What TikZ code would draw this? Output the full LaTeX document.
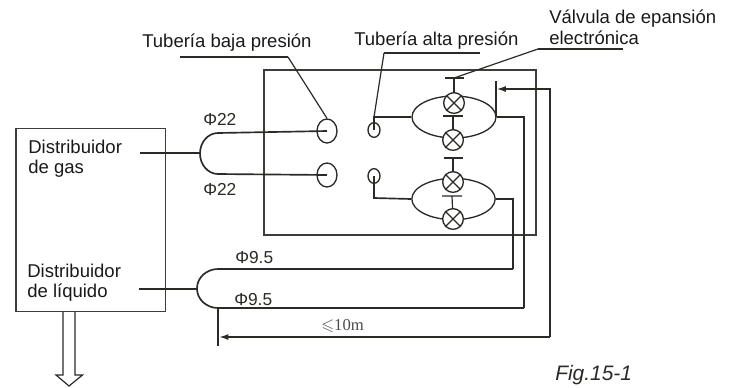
\documentclass[tikz,border=0pt]{standalone}
\usepackage{amssymb}
\usepackage{fontspec}
\setmainfont{Liberation Sans}
\newfontfamily\dimserif{Liberation Serif}
\usetikzlibrary{shapes.geometric,arrows.meta}
\definecolor{ink}{HTML}{2B2A26}
\definecolor{frame}{HTML}{3C3C38}
\tikzset{
  pipe/.style={draw=ink,line width=1.25pt},
  thin pipe/.style={draw=ink,line width=0.9pt},
  boxline/.style={draw=frame,line width=1.05pt},
  label/.style={inner sep=0pt,anchor=west,text=black!90,align=left,font=\fontsize{13.9}{15}\selectfont},
  dimlabel/.style={inner sep=0pt,anchor=west,text=ink,font=\fontsize{13}{15}\selectfont},
  valve/.style={circle,draw=ink,line width=1pt,fill=white,minimum size=15.5pt,inner sep=0pt},
  port/.style={ellipse,draw=ink,line width=1pt,inner sep=0pt,minimum width=#1},
  tip/.style={-{Latex[length=7pt,width=4.5pt]}}
}
\newcommand{\valvecross}[1]{\draw[thin pipe] (#1.north west) -- (#1.south east) (#1.north east) -- (#1.south west);}
\begin{document}
\begin{tikzpicture}[x=0.75pt,y=-0.75pt]
\useasboundingbox (0,0) rectangle (729,387);
% boxes
\node[boxline,rectangle,minimum width=112pt,minimum height=137.5pt,inner sep=0pt] (dist) at (90.75,220) {};
\node[boxline,rectangle,minimum width=204pt,minimum height=123.75pt,inner sep=0pt] (unit) at (400,152.5) {};
% coordinates
\coordinate (gs) at (140,153);
\coordinate (gl) at (200,153);
\coordinate (gt) at (218,133);
\coordinate (gb) at (218,174);
\coordinate (ls) at (139,289);
\coordinate (ll) at (197,289);
\coordinate (lt) at (218,269);
\coordinate (lb) at (218,308);
\coordinate (lbx) at (218,346);
\coordinate (larr) at (219,337);
\coordinate (ltr) at (513,269);
\coordinate (lbr) at (524,308);
\coordinate (c1) at (513,199);
\coordinate (c2) at (524,117);
\coordinate (far) at (550,337);
\coordinate (fart) at (550,89);
\coordinate (barT) at (496,81);
\coordinate (barB) at (496,117);
\coordinate (barM) at (496.5,89);
% ports
\node[port=15pt,minimum height=18pt] (b1) at (327,131) {};
\node[port=15pt,minimum height=18pt] (b2) at (327,175) {};
\node[port=9pt,minimum height=11pt] (a1) at (374,130) {};
\node[port=9pt,minimum height=11pt] (a2) at (374,176) {};
\coordinate (a1j) at (374,117);
\coordinate (a2j) at (374,198);
% expansion loops
\node[draw=ink,line width=1pt,ellipse,minimum width=63pt,minimum height=31.5pt,inner sep=0pt] (e1) at (454,117) {};
\node[draw=ink,line width=1pt,ellipse,minimum width=62.5pt,minimum height=31pt,inner sep=0pt] (e2) at (453.5,199) {};
\node[valve] (v1) at (454,103) {};
\node[valve] (v2) at (453,140) {};
\node[valve] (v3) at (453,182) {};
\node[valve] (v4) at (453,219) {};
\valvecross{v1}\valvecross{v2}\valvecross{v3}\valvecross{v4}
% T bars
\coordinate (t1l) at (445,78); \coordinate (t1r) at (464,78); \coordinate (t1m) at (454,78);
\coordinate (t2l) at (443,116); \coordinate (t2r) at (463,116); \coordinate (t2m) at (453,116);
\coordinate (t3l) at (444,158); \coordinate (t3r) at (463,158); \coordinate (t3m) at (453,158);
\coordinate (t4l) at (442,196); \coordinate (t4r) at (462,196); \coordinate (t4m) at (452,196);
\draw[thin pipe] (t1l) -- (t1r) (t1m) -- (v1);
\draw[thin pipe] (t2l) -- (t2r) (t2m) -- (v2);
\draw[thin pipe] (t3l) -- (t3r) (t3m) -- (v3);
\draw[thin pipe] (t4l) -- (t4r) (t4m) -- (v4);
% gas pipes
\draw[pipe] (gs) -- (gl);
\draw[pipe] (b1.center) -- (gt) arc[start angle=-90,end angle=-270,x radius=18,y radius=20.5] -- (b2.center);
% liquid pipes
\draw[pipe] (ls) -- (ll);
\draw[pipe] (ltr) -- (lt) arc[start angle=-90,end angle=-270,x radius=21,y radius=19.5] -- (lbr);
\draw[pipe] (lb) -- (lbx);
% connections to loops
\draw[pipe] (a1.center) -- (a1j) -- (e1.west);
\draw[pipe] (a2.center) -- (a2j) -- (e2.west);
\draw[pipe] (e2.east) -- (c1) -- (ltr);
\draw[pipe] (e1.east) -- (c2) -- (lbr);
% 10 m dimension
\draw[pipe] (barT) -- (barB);
\draw[pipe,tip] (far) -- (larr);
\draw[pipe,tip] (far) -- (fart) -- (barM);
% leaders
\coordinate (lb1) at (180,57); \coordinate (lb2) at (288,57);
\draw[thin pipe] (lb2) -- (b1.north);
\draw[pipe] (lb1) -- (lb2);
\coordinate (la1) at (480,53); \coordinate (la2) at (384,53);
\draw[thin pipe] (la2) -- (a1j);
\draw[pipe] (la1) -- (la2);
\coordinate (lv1) at (623,49); \coordinate (lv2) at (538,49);
\draw[thin pipe] (lv2) -- (t1m);
\draw[pipe] (lv1) -- (lv2);
% outlet arrow
\coordinate (o1) at (63,312); \coordinate (o2) at (63,375); \coordinate (o3) at (56,375);
\coordinate (o4) at (69,386); \coordinate (o5) at (82.5,375); \coordinate (o6) at (75,375); \coordinate (o7) at (75,312);
\draw[thin pipe] (o1) -- (o2) -- (o3) -- (o4) -- (o5) -- (o6) -- (o7);
% labels
\node[label] (t1) at (142,43) {Tubería baja presión};
\node[label] (t2) at (354,41) {Tubería alta presión};
\node[label,font=\fontsize{13.9}{16}\selectfont] (t3) at (549,27.5) {Válvula de epansión\\electrónica};
\node[label] (t4) at (28,158.5) {Distribuidor\\de gas};
\node[label] (t5) at (27,282.5) {Distribuidor\\de líquido};
\node[dimlabel] (d1) at (203,119) {Φ22};
\node[dimlabel] (d2) at (203,189) {Φ22};
\node[dimlabel] (d3) at (235,258) {Φ9.5};
\node[dimlabel] (d4) at (234,300) {Φ9.5};
\node[inner sep=0pt,anchor=west,text=black!70,font=\dimserif\fontsize{12.5}{14}\selectfont] (d5) at (321,326) {$\leqslant$10m};
\node[inner sep=0pt,anchor=west,text=ink,font=\itshape\fontsize{15.7}{18}\selectfont] (fig) at (555,375) {Fig.15-1};
\end{tikzpicture}
\end{document}
